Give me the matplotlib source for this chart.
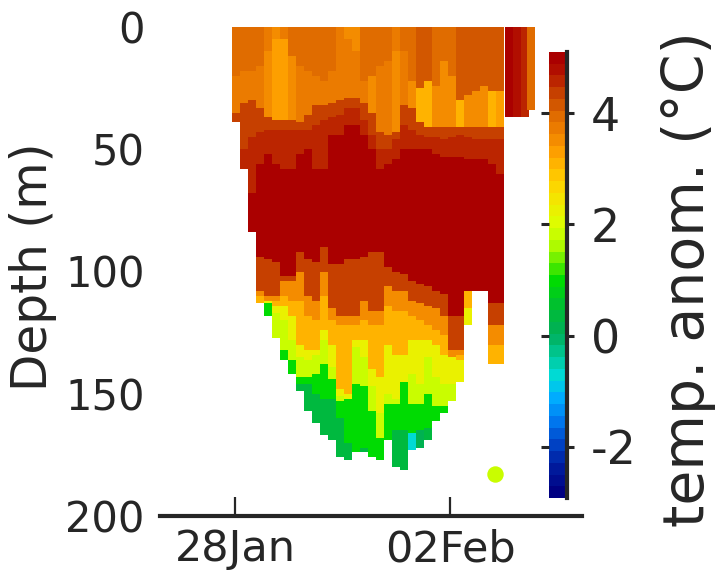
"""Glider section of temperature anomaly, drawn profile by profile."""
import matplotlib

matplotlib.use("Agg")
import matplotlib.pyplot as plt
import numpy as np
from matplotlib.colors import LinearSegmentedColormap, Normalize

FIG_W, FIG_H = 719, 575

plt.rcParams["font.family"] = "DejaVu Sans"
plt.rcParams["axes.unicode_minus"] = False

# profile time, days after 28 Jan
times = [0.02, 0.21, 0.40, 0.58, 0.77, 0.95, 1.14, 1.33, 1.51, 1.70, 1.88, 2.07,
         2.26, 2.44, 2.63, 2.81, 3.00, 3.19, 3.37, 3.56, 3.74, 3.93, 4.12, 4.30,
         4.49, 4.67, 4.86, 5.05, 5.23, 5.42, 5.60, 5.79, 5.98, 6.16]
# deepest sample of each profile, m
bottom = [39, 58, 84, 113, 118, 127, 136, 142, 149, 157, 162, 167,
          169, 176, 177, 174, 174, 176, 177, 169, 180, 181, 173, 172,
          169, 161, 158, 153, 145, 122, 108, 108, 138, 138]

# temperature of the surface, mid and deepest layers
t_top = [3.9, 3.9, 3.9, 3.9, 3.7, 3.5, 3.7, 3.85, 3.85, 3.85, 3.85, 3.9,
         3.9, 3.8, 3.6, 3.6, 3.85, 3.9, 3.9, 3.85, 3.8, 3.85, 4.0, 4.1,
         4.15, 4.0, 3.85, 3.9, 4.1, 4.2, 4.2, 4.2, 4.15, 4.2]
t_mid = [3.7, 3.7, 3.7, 3.7, 3.5, 3.3, 3.4, 3.6, 3.7, 3.7, 3.7, 3.7,
         3.7, 3.7, 3.7, 3.7, 3.7, 3.6, 3.7, 3.7, 3.5, 3.7, 3.6, 3.2,
         3.2, 3.6, 3.6, 3.5, 3.2, 3.5, 3.6, 3.6, 3.2, 3.3]
t_deep = [0.3, 0.3, 0.3, 0.3, 0.3, 0.3, 0.3, 0.3, 0.3, 0.3, 0.3, 0.3,
          0.3, 0.3, 0.3, 0.3, 0.3, 0.3, 0.3, 0.3, 0.3, 0.3, -0.7, 0.1,
          0.3, 0.3, 0.3, 0.3, 0.3, 0.3, 0.3, 0.3, 0.3, 0.3]

# fixed temperature of the layers between the named depth rows below
layer_temps = [4.3, 4.65, 5.1, 4.4, 3.6, 3.0, 2.3, 1.8, 0.9]

# depth (m) where each layer ends, one value per profile
z_top = [20, 18, 18, 16, 10, 5, 5, 12, 16, 18, 20, 22,
         18, 8, 5, 10, 22, 20, 16, 14, 10, 10, 22, 25,
         22, 24, 14, 20, 30, 28, 26, 24, 26, 26]
z_mid = [35, 31, 30, 33, 37, 38, 38, 38, 39, 36, 32, 32,
         31, 30, 29, 29, 31, 35, 43, 44, 43, 32, 33, 39,
         41, 41, 41, 41, 41, 41, 41, 41, 41, 41]
z_42 = [50, 50, 45, 43, 42, 42, 42, 42, 42, 42, 40, 38,
        37, 36, 33, 33, 38, 44, 50, 50, 46, 40, 42, 44,
        45, 45, 46, 45, 44, 45, 46, 46, 46, 46]
z_47 = [60, 70, 68, 56, 52, 56, 58, 58, 52, 50, 58, 58,
        44, 44, 40, 40, 44, 50, 58, 56, 54, 50, 50, 50,
        50, 52, 53, 53, 53, 54, 54, 54, 56, 60]
z_51 = [85, 85, 85, 94, 95, 96, 102, 102, 92, 95, 96, 90,
        97, 97, 95, 95, 94, 92, 92, 98, 100, 101, 104, 105,
        106, 108, 109, 118, 118, 108, 108, 108, 113, 113]
z_45 = [90, 90, 90, 108, 110, 110, 104, 104, 100, 110, 112, 100,
        115, 118, 118, 118, 112, 116, 116, 106, 108, 108, 112, 113,
        114, 115, 118, 132, 132, 108, 108, 108, 122, 122]
z_36 = [90, 90, 90, 110, 112, 112, 110, 112, 112, 118, 120, 110,
        120, 122, 122, 122, 120, 122, 122, 114, 116, 116, 118, 120,
        122, 124, 126, 135, 134, 108, 108, 108, 130, 130]
z_30 = [90, 90, 90, 113, 112, 114, 114, 118, 130, 132, 132, 124,
        130, 148, 150, 128, 128, 140, 143, 130, 134, 134, 128, 128,
        128, 130, 134, 134, 136, 115, 108, 108, 138, 138]
z_23 = [90, 90, 90, 113, 113, 117, 120, 128, 135, 136, 134, 128,
        139, 151, 152, 131, 135, 147, 158, 150, 152, 145, 142, 146,
        135, 143, 146, 146, 147, 122, 108, 108, 138, 138]
z_18 = [90, 90, 90, 113, 113, 127, 132, 136, 143, 143, 142, 138,
        144, 153, 146, 146, 147, 157, 168, 154, 154, 145, 154, 154,
        150, 155, 155, 157, 160, 122, 108, 108, 138, 138]
z_09 = [90, 90, 90, 113, 200, 200, 200, 200, 146, 146, 150, 152,
        152, 160, 170, 175, 172, 200, 200, 200, 165, 165, 166, 165,
        164, 200, 200, 200, 200, 200, 200, 200, 200, 200]

# short separate dive at the right edge, top 37 m only
far_times = [6.37, 6.55, 6.74, 6.88]
far_bottom = [37, 37, 37, 34]
far_temps = [4.9, 4.8, 4.5, 4.0]

# lone sample
dot_time = [6.05]
dot_depth = [183]
dot_temp = [1.9]

# colormap stops
cmap_vals = [-2.92, -2.4, -2.0, -1.6, -1.2, -0.8, -0.4, 0.0, 0.5, 1.0, 1.2, 1.6,
             2.0, 2.4, 2.8, 3.3, 3.7, 4.0, 4.4, 4.8, 5.1]
cmap_cols = ["#000082", "#001ea0", "#0046c8", "#0078f0", "#00aaff", "#00dcdc",
             "#00c896", "#00af5a", "#00be32", "#00dc00", "#3ce600", "#aafa00",
             "#dcff00", "#f0eb00", "#ffd200", "#ffa500", "#f08200", "#e16e00",
             "#c84600", "#b41400", "#aa0000"]

x_tick_pos = [0, 5]
x_tick_labels = ["28Jan", "02Feb"]
y_ticks = [0, 50, 100, 150, 200]
cbar_ticks = [-2, 0, 2, 4]

INK = "#262626"
HALF_W = 0.095  # half a profile's width, days


def make_cmap():
    vmin, vmax = cmap_vals[0], cmap_vals[-1]
    stops = [(v - vmin) / (vmax - vmin) for v in cmap_vals]
    return LinearSegmentedColormap.from_list("anom", list(zip(stops, cmap_cols)), N=38)


def px_axes(fig, x0, y0, x1, y1):
    """Add axes from pixel edges, y measured from the top of the image."""
    return fig.add_axes([x0 / FIG_W, 1 - y1 / FIG_H, (x1 - x0) / FIG_W, (y1 - y0) / FIG_H])


def draw_section(ax, cmap, norm):
    rows = [z_top, z_mid, z_42, z_47, z_51, z_45, z_36, z_30, z_23, z_18, z_09]
    for i, t in enumerate(times):
        z = [0] + [r[i] for r in rows] + [bottom[i]]
        z = np.clip(np.maximum.accumulate(z), 0, bottom[i])
        temps = [t_top[i], t_mid[i]] + layer_temps + [t_deep[i]]
        ax.pcolormesh([t - HALF_W, t + HALF_W], z, np.array(temps)[:, None], cmap=cmap, norm=norm)
    for t, b, v in zip(far_times, far_bottom, far_temps):
        ax.pcolormesh([t - HALF_W, t + HALF_W], [0, b], [[v]], cmap=cmap, norm=norm)
    ax.scatter(dot_time, dot_depth, c=dot_temp, s=140, cmap=cmap, norm=norm, lw=0)


def main():
    fig = plt.figure(figsize=(FIG_W / 100, FIG_H / 100), dpi=100)
    ax = px_axes(fig, 160, 27, 582, 516)
    cmap = make_cmap()
    norm = Normalize(cmap_vals[0], cmap_vals[-1])
    draw_section(ax, cmap, norm)

    ax.set_xlim(-1.744, 8.07)
    ax.set_ylim(200, 0)
    for side in ["top", "left", "right"]:
        ax.spines[side].set_visible(False)
    ax.spines["bottom"].set_linewidth(3)
    ax.spines["bottom"].set_color(INK)
    ax.set_xticks(x_tick_pos, x_tick_labels)
    ax.set_yticks(y_ticks)
    ax.tick_params(axis="x", direction="in", length=14, width=1.6, color=INK,
                   labelsize=31, labelcolor=INK, pad=9)
    ax.tick_params(axis="y", length=0, labelsize=30, labelcolor=INK, pad=11)
    ax.set_ylabel("Depth (m)", fontsize=35, color=INK)
    ax.yaxis.set_label_coords(-0.245, 0.51)

    cax = px_axes(fig, 549, 52, 567, 498)
    cb = fig.colorbar(plt.cm.ScalarMappable(norm=norm, cmap=cmap), cax=cax)
    cb.outline.set_visible(False)
    cb.set_ticks(cbar_ticks)
    cax.spines["right"].set_visible(True)
    cax.spines["right"].set_linewidth(3)
    cax.spines["right"].set_color(INK)
    cax.tick_params(axis="y", left=True, right=True, length=6, width=2.2, color=INK,
                    labelsize=33, labelcolor=INK, pad=11)
    for tick in cax.yaxis.get_major_ticks():
        tick.tick2line.set_markersize(5)
    cb.set_label("temp. anom. (°C)", fontsize=41, color=INK)
    cax.yaxis.set_label_coords(6.2, 0.49)

    fig.savefig("out.png", dpi=100)
    plt.close(fig)


if __name__ == "__main__":
    main()
